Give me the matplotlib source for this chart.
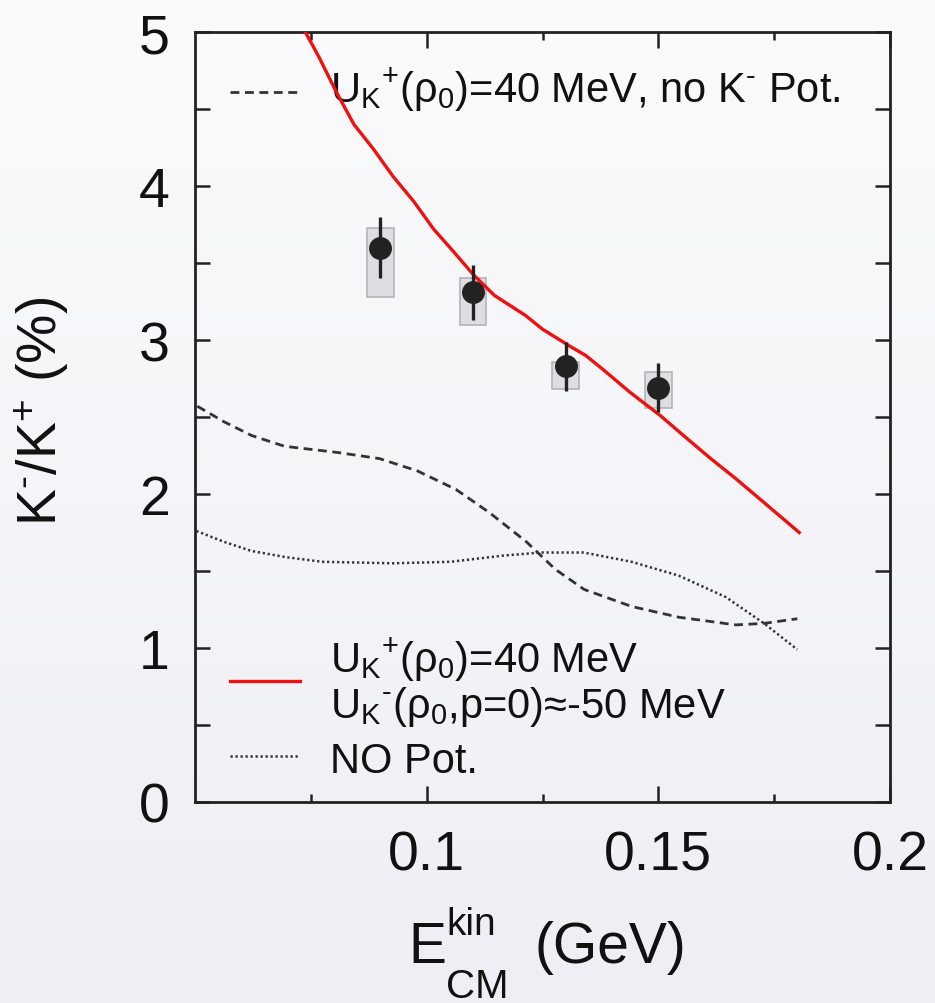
import matplotlib
matplotlib.use('Agg')
import matplotlib.pyplot as plt
from matplotlib.patches import Rectangle
import numpy as np

plt.rcParams['font.family'] = ['Liberation Sans', 'DejaVu Sans']
plt.rcParams['mathtext.fontset'] = 'custom'
plt.rcParams['mathtext.rm'] = 'Liberation Sans'
plt.rcParams['mathtext.it'] = 'Liberation Sans:italic'
plt.rcParams['mathtext.bf'] = 'Liberation Sans:bold'

# measured K-/K+ ratio (%)
energy = [0.09, 0.11, 0.13, 0.15]
ratio = [3.60, 3.31, 2.83, 2.69]
stat_err = [0.20, 0.18, 0.16, 0.16]
sys_low = [3.28, 3.10, 2.68, 2.56]
sys_high = [3.73, 3.40, 2.86, 2.79]

# transport calculation: U_K+ = 40 MeV, U_K- = -50 MeV
red_x = [0.0738, 0.0767, 0.0805, 0.0843, 0.0885, 0.0928, 0.0972, 0.1015,
         0.1059, 0.1102, 0.1146, 0.1213, 0.125, 0.1309, 0.1343, 0.138,
         0.1439, 0.1504, 0.1558, 0.1613, 0.1667, 0.1722, 0.1804]
red_y = [5.0, 4.84, 4.61, 4.40, 4.24, 4.06, 3.90, 3.72,
         3.57, 3.42, 3.29, 3.16, 3.07, 2.96, 2.90, 2.81,
         2.66, 2.51, 2.37, 2.23, 2.10, 1.96, 1.75]

# U_K+ = 40 MeV, no K- potential
dash_x = [0.0505, 0.0562, 0.0622, 0.0693, 0.0807, 0.0898, 0.098, 0.1063, 0.1135,
          0.1215, 0.1278, 0.134, 0.1442, 0.1544, 0.1667, 0.1728, 0.1800]
dash_y = [2.57, 2.47, 2.38, 2.31, 2.27, 2.23, 2.15, 2.03, 1.88,
          1.69, 1.51, 1.38, 1.27, 1.20, 1.15, 1.16, 1.19]

# no potentials
dot_x = [0.0503, 0.0562, 0.0622, 0.0696, 0.0774, 0.0928, 0.1052, 0.1165, 0.1246,
         0.1339, 0.1442, 0.1544, 0.1646, 0.1728, 0.1800]
dot_y = [1.76, 1.69, 1.63, 1.59, 1.56, 1.55, 1.56, 1.60, 1.62,
         1.62, 1.56, 1.47, 1.33, 1.16, 0.99]

W, H = 935, 1004
fig = plt.figure(figsize=(W / 100, H / 100), dpi=100)

# soft grey background gradient
bg = fig.add_axes([0, 0, 1, 1], zorder=-10)
grad = np.linspace(0, 1, 256).reshape(-1, 1)
bg.imshow(grad, aspect='auto', cmap=matplotlib.colors.LinearSegmentedColormap.from_list(
    'bg', ['#fbfbfd', '#eeeff4']), extent=[0, 1, 0, 1], origin='upper')
bg.axis('off')

ax = fig.add_axes([0.2086, 0.2002, 0.7433, 0.7669])
ax.set_facecolor('none')

box_hw = 0.0029
for x, lo, hi in zip(energy, sys_low, sys_high):
    ax.add_patch(Rectangle((x - box_hw, lo), 2 * box_hw, hi - lo,
                           facecolor='#dedee2', edgecolor='#b4b4b8', lw=1.2, zorder=2))

dash_style = dict(color='#333333', lw=2.0, ls=(0, (3.2, 2.0)))
dot_style = dict(color='#333333', lw=1.8, ls=(0, (0.9, 1.1)))
red_style = dict(color='#f01010', lw=2.4)

ax.plot(dash_x, dash_y, zorder=3, **dash_style)
ax.plot(dot_x, dot_y, zorder=3, **dot_style)
ax.plot(red_x, red_y, zorder=4, solid_joinstyle='round', **red_style)

ax.errorbar(energy, ratio, yerr=stat_err, fmt='o', color='#222222', ms=15.5,
            elinewidth=2.4, capsize=0, zorder=5)

ax.set_xlim(0.05, 0.2)
ax.set_ylim(0, 5)
ax.set_xticks([0.1, 0.15, 0.2])
ax.set_xticklabels(['0.1', '0.15', '0.2'])
ax.set_xticks([0.075, 0.125, 0.175], minor=True)
ax.set_yticks([0, 1, 2, 3, 4, 5])
ax.set_yticks([0.5, 1.5, 2.5, 3.5, 4.5], minor=True)
ax.tick_params(which='both', direction='in', top=True, right=True,
               width=1.8, color='#222222', labelsize=40, labelcolor='#111111')
ax.tick_params(axis='x', which='major', length=11.5, pad=20)
ax.tick_params(axis='x', which='minor', length=6)
ax.tick_params(axis='y', which='both', length=11, pad=18)
for s in ax.spines.values():
    s.set_linewidth(2)
    s.set_color('#222222')

ax.set_ylabel(r'K$^{\text{-}}$/K$^{+}$ (%)', fontsize=40, color='#111111')
ax.yaxis.set_label_coords(-0.178, 0.508)


# x label built from pieces so that super- and subscript sit apart like the original
def px_text(x, y, s, size):
    fig.text(x / W, 1 - y / H, s, fontsize=size, color='#111111', va='baseline')


px_text(408, 963, 'E', 41)
px_text(446, 935, 'kin', 28)
px_text(446, 998, 'CM', 29)
px_text(535, 963, '(GeV)', 41)

# legend entries
def key(y, style):
    ax.plot([0.0504, 0.1511], [y, y], transform=ax.transAxes, **style)


def key_text(y, s):
    ax.text(0.194, y, s, transform=ax.transAxes, fontsize=30, va='baseline',
            color='#111111')


key(0.922, dash_style)
key_text(0.910, r'U$_{\mathrm{K}}{}^{+}$(ρ$_0$)=40 MeV, no K$^{\text{-}}$ Pot.')

key(0.157, red_style)
key_text(0.169, r'U$_{\mathrm{K}}{}^{+}$(ρ$_0$)=40 MeV')
key_text(0.110, r'U$_{\mathrm{K}}{}^{\text{-}}$(ρ$_0$,p=0)≈-50 MeV')

key(0.060, dot_style)
key_text(0.039, 'NO Pot.')

fig.savefig('out.png', dpi=100)
